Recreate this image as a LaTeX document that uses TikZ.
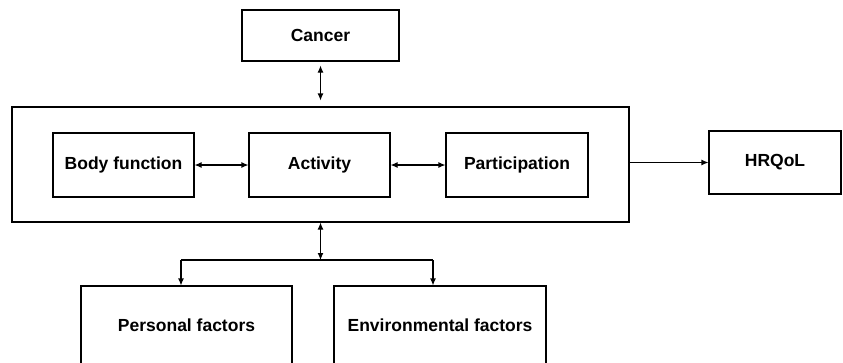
\documentclass[tikz,border=0pt]{standalone}
\usepackage{fontspec}
\setmainfont{Liberation Sans}
\usetikzlibrary{arrows.meta}
\pgfdeclarelayer{bg}
\pgfsetlayers{bg,main}
\tikzset{
  box/.style={draw, line width=1.1pt, inner sep=0pt, font=\fontsize{17.5}{20}\selectfont\bfseries},
  link/.style={draw, line width=1.1pt, -{Latex[length=7pt,width=6pt]}},
  twoway/.style={draw, line width=1.1pt, {Latex[length=7pt,width=6pt]}-{Latex[length=7pt,width=6pt]}}
}

\begin{document}
\begin{tikzpicture}[x=1pt, y=-1pt]
        \useasboundingbox (0,0) rectangle (843,362);
        \clip (0,0) rectangle (843,362);
        \node (cancer) [box, minimum width=157pt, minimum height=51pt] at (320.5, 35.5) {Cancer};
        \node (icf) [box, minimum width=617pt, minimum height=115pt] at (320.5, 164.5) {};
        \node (body) [box, minimum width=141pt, minimum height=64pt] at (123.5, 165) {Body function};
        \node (act) [box, minimum width=141pt, minimum height=64pt] at (319.5, 165) {Activity};
        \node (part) [box, minimum width=142pt, minimum height=64pt] at (517, 165) {Participation};
        \node (hrqol) [box, minimum width=132pt, minimum height=63pt] at (775, 162.5) {HRQoL};
        \node (pers) [box, minimum width=211pt, minimum height=78pt] at (186.5, 325) {Personal factors};
        \node (env) [box, minimum width=212pt, minimum height=78pt] at (440, 325) {Environmental factors};
        \coordinate (split) at (320.5, 260);
        \coordinate (persin) at (181, 260);
        \coordinate (envin) at (433, 260);
        \begin{pgfonlayer}{bg}
                \draw [twoway, shorten <=4pt, shorten >=6pt] (cancer) -- (icf);
                \draw [twoway] (body) -- (act);
                \draw [twoway] (act) -- (part);
                \draw [link] (icf.east |- hrqol.west) -- (hrqol.west);
                \draw [twoway] (icf.south) -- (split);
                \draw [line width=1.1pt] (persin) -- (envin);
                \draw [link] (persin) -- (persin |- pers.north);
                \draw [link] (envin) -- (envin |- env.north);
        \end{pgfonlayer}
\end{tikzpicture}
\end{document}
